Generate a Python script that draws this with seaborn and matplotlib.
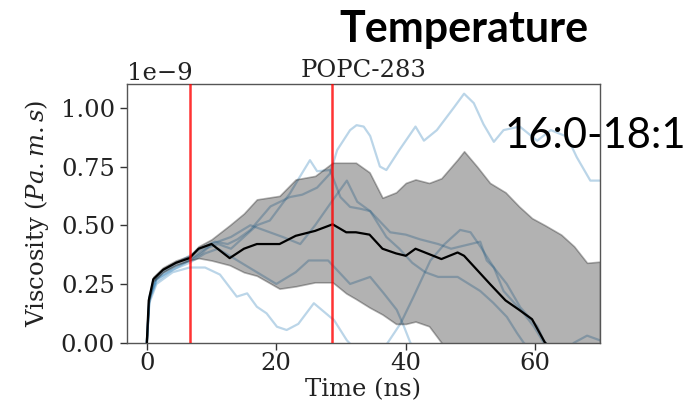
import numpy as np
import pandas as pd
import matplotlib
matplotlib.use("Agg")
import matplotlib.pyplot as plt
import seaborn as sns

# ---------------- data (viscosity in units of 1e-9 Pa.m.s) ----------------
marker_times = [6.6, 28.6]

t_band = [0, 0.3, 1, 2.5, 4.5, 6.6, 8, 10, 12.8, 15, 17, 20.5, 23, 26, 28.7, 30.8,
          32.3, 34.4, 36.4, 38.5, 40, 41.5, 43.6, 45.5, 48, 49, 51, 53, 55.4, 57.5,
          59.5, 61.5, 64, 66, 68, 70]
mean_visc = [0, 0.18, 0.27, 0.31, 0.34, 0.36, 0.40, 0.42, 0.36, 0.40, 0.42, 0.42,
             0.455, 0.476, 0.504, 0.47, 0.47, 0.46, 0.40, 0.38, 0.37, 0.40, 0.377,
             0.356, 0.384, 0.37, 0.31, 0.25, 0.18, 0.14, 0.10, 0.0, -0.06, -0.10,
             -0.15, -0.20]
upper_visc = [0, 0.19, 0.28, 0.32, 0.35, 0.37, 0.41, 0.44, 0.50, 0.55, 0.61, 0.625,
              0.695, 0.71, 0.766, 0.766, 0.766, 0.725, 0.617, 0.64, 0.68, 0.695,
              0.68, 0.70, 0.78, 0.815, 0.75, 0.68, 0.64, 0.58, 0.53, 0.50, 0.46,
              0.41, 0.34, 0.345]
lower_visc = [0, 0.17, 0.26, 0.30, 0.33, 0.35, 0.36, 0.35, 0.33, 0.30, 0.285, 0.23,
              0.24, 0.257, 0.257, 0.21, 0.186, 0.15, 0.12, 0.08, 0.08, 0.09, 0.07,
              0.0, -0.10, -0.15, -0.25, -0.30, -0.35, -0.40, -0.45, -0.50, -0.55,
              -0.60, -0.62, -0.65]

t_run_a = [0, 0.4, 1.5, 4, 6.6, 9, 10.5, 12.5, 14, 16, 19.1, 22.1, 24, 26.3, 28.3,
           29.4, 31.4, 32.4, 33.5, 34.5, 36, 37, 39, 41.5, 42.8, 44.8, 47.4, 49,
           50.5, 52, 53.6, 55.1, 57.6, 60.3, 62.4, 64.9, 66.4, 68.5, 70]
v_run_a = [0, 0.2, 0.28, 0.33, 0.37, 0.41, 0.43, 0.42, 0.44, 0.48, 0.58, 0.62, 0.63,
           0.66, 0.72, 0.82, 0.905, 0.926, 0.92, 0.88, 0.75, 0.735, 0.82, 0.92, 0.86,
           0.905, 1.0, 1.06, 1.02, 0.93, 0.855, 0.905, 0.92, 0.86, 0.905, 0.877,
           0.79, 0.69, 0.69]

t_run_b = [0, 0.4, 1.5, 4, 6.6, 9, 11, 13, 15, 17, 19, 22.1, 23.5, 25.2, 26.3, 28.3,
           29.9, 31.4, 33, 34.5, 37.6, 40, 42.2, 45, 47, 50, 51.5, 52.5, 53.6, 55.1,
           58.2, 59.8, 61.3, 63, 70]
v_run_b = [0, 0.19, 0.27, 0.32, 0.35, 0.40, 0.42, 0.40, 0.45, 0.50, 0.52, 0.635,
           0.70, 0.777, 0.73, 0.735, 0.62, 0.578, 0.57, 0.56, 0.47, 0.46, 0.44,
           0.42, 0.40, 0.42, 0.43, 0.35, 0.32, 0.22, 0.125, 0.068, 0.0, -0.05, -0.2]

t_run_c = [0, 0.4, 1.5, 4, 6.6, 8.5, 10, 13, 16, 19, 21, 23.7, 26, 28.8, 30.9, 32.5,
           34.5, 37, 39, 41, 43, 45, 48, 51.5, 53.5, 55.6, 57.2, 58.2, 60, 70]
v_run_c = [0, 0.18, 0.26, 0.31, 0.35, 0.38, 0.42, 0.45, 0.50, 0.47, 0.45, 0.42, 0.50,
           0.61, 0.69, 0.60, 0.56, 0.45, 0.40, 0.34, 0.30, 0.28, 0.28, 0.22, 0.17,
           0.11, 0.04, 0.0, -0.05, -0.3]

t_run_d = [0, 0.4, 1.5, 4, 6.6, 9, 11, 14, 17, 20, 23, 25, 28, 31.4, 34.5, 36.6,
           38.6, 39.7, 40.7, 43, 50, 62, 66, 68, 70]
v_run_d = [0, 0.19, 0.27, 0.31, 0.34, 0.38, 0.40, 0.35, 0.30, 0.25, 0.30, 0.35, 0.35,
           0.25, 0.28, 0.21, 0.14, 0.07, 0.0, -0.1, -0.2, -0.1, 0.0, 0.03, 0.01]

t_run_e = [0, 0.4, 1.5, 4, 6.6, 9, 11.3, 13.9, 15.5, 17, 18.5, 20.1, 21.6, 23.4,
           25.8, 28.3, 28.9, 30.9, 33, 36, 39.2, 41.2, 43.8, 46, 48.4, 50, 51.5,
           53.6, 55.6, 57.7, 60.3, 61.3, 63, 70]
v_run_e = [0, 0.17, 0.25, 0.30, 0.32, 0.32, 0.29, 0.196, 0.21, 0.153, 0.125, 0.068,
           0.054, 0.08, 0.168, 0.11, 0.097, 0.01, -0.05, -0.05, 0.082, 0.196, 0.35,
           0.42, 0.48, 0.47, 0.41, 0.32, 0.25, 0.15, 0.07, 0.01, -0.05, -0.3]

runs = [(t_run_a, v_run_a), (t_run_b, v_run_b), (t_run_c, v_run_c),
        (t_run_d, v_run_d), (t_run_e, v_run_e)]

SCALE = 1e-9
FS = 17.5

# ---------------- style ----------------
sns.set_style("white")
plt.rcParams["font.family"] = ["DejaVu Serif"]
plt.rcParams["mathtext.fontset"] = "dejavuserif"
plt.rcParams["axes.edgecolor"] = "#555555"
plt.rcParams["axes.linewidth"] = 1.0

fig = plt.figure(figsize=(6.94, 4.11), dpi=100)
ax = fig.add_axes([0.1826, 0.1662, 0.6820, 0.6287])

for i, (tt, vv) in enumerate(runs):
    df = pd.DataFrame({"t": tt, "v": np.array(vv) * SCALE})
    sns.lineplot(data=df, x="t", y="v", ax=ax, color="#1f77b4", alpha=0.3,
                 linewidth=1.6, estimator=None, sort=False)

ax.fill_between(np.array(t_band), np.array(lower_visc) * SCALE,
                np.array(upper_visc) * SCALE, color="black", alpha=0.3,
                linewidth=1.2, zorder=2)

df_mean = pd.DataFrame({"t": t_band, "v": np.array(mean_visc) * SCALE})
sns.lineplot(data=df_mean, x="t", y="v", ax=ax, color="black", linewidth=1.6,
             estimator=None, sort=False, zorder=3)

for mt in marker_times:
    ax.axvline(mt, color="red", alpha=0.8, linewidth=1.8, zorder=4)

ax.set_xlim(-3.1, 70)
ax.set_ylim(0, 1.10e-9)
ax.set_xticks([0, 20, 40, 60])
ax.set_yticks(np.array([0, 0.25, 0.5, 0.75, 1.0]) * SCALE)
ax.tick_params(axis="both", which="major", labelsize=FS, length=5, width=1,
               color="#333333", direction="out", bottom=True, left=True,
               labelcolor="#222222")
ax.tick_params(axis="x", pad=2)
ax.yaxis.get_offset_text().set_fontsize(FS)
ax.yaxis.get_offset_text().set_color("#222222")
ax.set_xlabel("Time (ns)", fontsize=FS, color="#222222", labelpad=2)
ax.set_ylabel("Viscosity ($Pa.m.s$)", fontsize=FS, color="#222222",
              labelpad=7)
ax.set_title("POPC-283", fontsize=FS, color="#222222", pad=5)

fig.text(0.669, 1 - 41.7 / 411, "Temperature", family=["Lato", "DejaVu Sans"],
         fontweight="bold", fontsize=31, ha="center", va="baseline",
         color="black")
fig.text(505 / 694, 1 - 148 / 411, "16:0-18:1", family=["Lato", "DejaVu Sans"],
         fontsize=30, ha="left", va="baseline", color="black")

fig.savefig("out.png", dpi=100)
